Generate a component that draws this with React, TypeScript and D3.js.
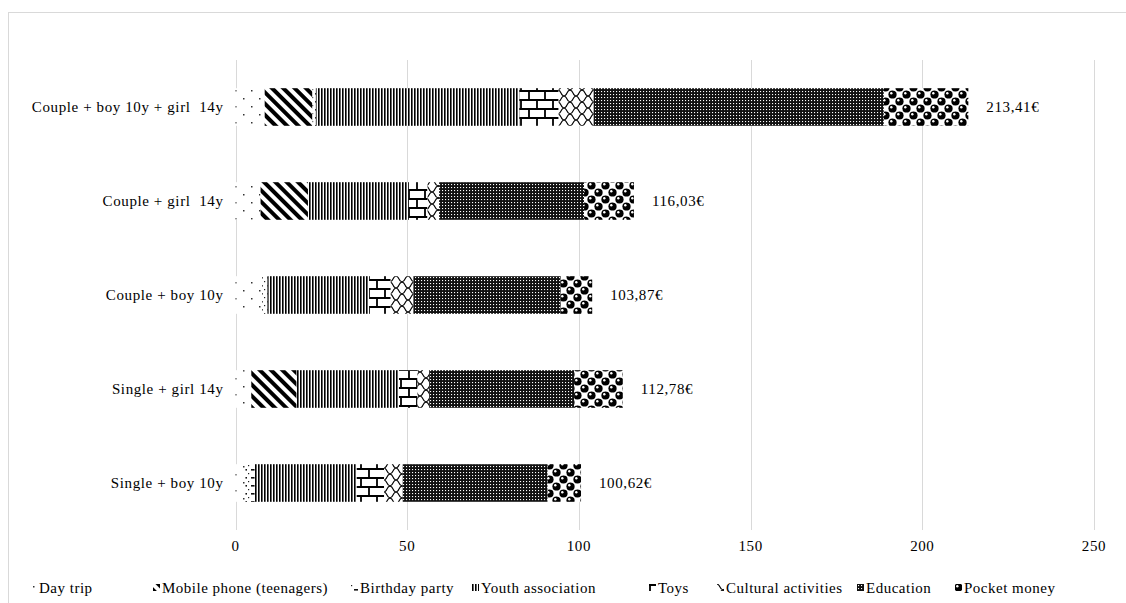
import React from "react";
import * as d3 from "d3";

// Household categories (top to bottom) and monthly cost items, in €
const categories = [
  "Couple + boy 10y + girl  14y",
  "Couple + girl  14y",
  "Couple + boy 10y",
  "Single + girl 14y",
  "Single + boy 10y",
];

const dayTrip = [8.5, 7.3, 7.8, 4.6, 2.9];
const mobilePhone = [13.9, 13.8, 0, 13.2, 0];
const birthdayParty = [1.0, 0, 1.5, 0, 2.7];
const youthAssociation = [59.3, 29.4, 29.6, 29.8, 29.7];
const toys = [11.4, 5.4, 6.3, 5.4, 8.0];
const culturalActivities = [10.2, 3.4, 6.6, 3.4, 5.4];
const education = [84.5, 42.2, 42.9, 42.2, 42.2];
const pocketMoney = [24.61, 14.53, 9.17, 14.18, 9.72];

const totals = [213.41, 116.03, 103.87, 112.78, 100.62];

const seriesNames = [
  "Day trip",
  "Mobile phone (teenagers)",
  "Birthday party",
  "Youth association",
  "Toys",
  "Cultural activities",
  "Education",
  "Pocket money",
];
const seriesValues = [
  dayTrip,
  mobilePhone,
  birthdayParty,
  youthAssociation,
  toys,
  culturalActivities,
  education,
  pocketMoney,
];

const xTicks = [0, 50, 100, 150, 200, 250];

const W = 1126;
const H = 603;
const FONT = "'Liberation Serif', 'Times New Roman', serif";
const FS = 15;
const LS = 0.6;

const margin = { left: 235.5, right: 1094, top: 60, bottom: 530 };

// legend swatch positions along the bottom row
const legendX = [30, 153, 351, 472, 649, 717, 857, 955];
const legendY = 588;

const rows = categories.map((c, i) => {
  const r: Record<string, number | string> = { category: c };
  seriesNames.forEach((s, j) => (r[s] = seriesValues[j][i]));
  return r;
});

// Fill tiles for the eight cost items; `ox`/`oy` shift the tile origin
function PatternSet({ prefix, ox = 0, oy = 0 }: { prefix: string; ox?: number; oy?: number }) {
  return (
    <>
      {/* Day trip: sparse staggered dots */}
      <pattern id={`${prefix}0`} patternUnits="userSpaceOnUse" x={ox} y={oy} width="16" height="16">
        <rect width="16" height="16" fill="#fff" />
        <rect x="3" y="2" width="1.5" height="1.5" fill="#333" />
        <rect x="11" y="10" width="1.5" height="1.5" fill="#333" />
      </pattern>
      {/* Mobile phone: wide diagonal stripes */}
      <pattern
        id={`${prefix}1`}
        patternUnits="userSpaceOnUse"
        x={ox}
        y={oy}
        width="8"
        height="8"
        patternTransform="rotate(-45)"
      >
        <rect width="8" height="8" fill="#fff" />
        <rect width="4" height="8" fill="#000" />
      </pattern>
      {/* Birthday party: dots and short dashes */}
      <pattern id={`${prefix}2`} patternUnits="userSpaceOnUse" x={ox} y={oy} width="8" height="8">
        <rect width="8" height="8" fill="#fff" />
        <rect x="0" y="1" width="1.2" height="1.2" fill="#222" />
        <rect x="3" y="5" width="4" height="1.6" fill="#111" />
      </pattern>
      {/* Youth association: dense vertical lines */}
      <pattern id={`${prefix}3`} patternUnits="userSpaceOnUse" x={ox} y={oy} width="3" height="6">
        <rect width="3" height="6" fill="#fff" />
        <rect width="1.6" height="6" fill="#000" />
      </pattern>
      {/* Toys: brick wall */}
      <pattern id={`${prefix}4`} patternUnits="userSpaceOnUse" x={ox} y={oy} width="16" height="18">
        <rect width="16" height="18" fill="#fff" />
        <path
          d="M0,1 H16 M0,10 H16 M1,1 V10 M9,10 V18"
          stroke="#000"
          strokeWidth="1.8"
          fill="none"
        />
      </pattern>
      {/* Cultural activities: curved lattice */}
      <pattern id={`${prefix}5`} patternUnits="userSpaceOnUse" x={ox} y={oy} width="12" height="12">
        <rect width="12" height="12" fill="#fff" />
        <path
          d="M0,0 C4,1 2,5 6,6 C10,7 8,11 12,12 M12,0 C8,1 10,5 6,6 C2,7 4,11 0,12"
          stroke="#000"
          strokeWidth="1.1"
          fill="none"
        />
      </pattern>
      {/* Education: black with fine white dots */}
      <pattern id={`${prefix}6`} patternUnits="userSpaceOnUse" x={ox} y={oy} width="3" height="3">
        <rect width="3" height="3" fill="#111" />
        <rect x="1" y="1" width="1.1" height="1.1" fill="#fff" />
      </pattern>
      {/* Pocket money: shaded spheres */}
      <pattern id={`${prefix}7`} patternUnits="userSpaceOnUse" x={ox} y={oy} width="14" height="14">
        <rect width="14" height="14" fill="#fff" />
        <circle cx="3.5" cy="3.5" r="4.1" fill="#000" />
        <circle cx="2.3" cy="2.2" r="1.2" fill="#fff" />
        <circle cx="10.5" cy="10.5" r="4.1" fill="#000" />
        <circle cx="9.3" cy="9.2" r="1.2" fill="#fff" />
        <circle cx="17.5" cy="3.5" r="4.1" fill="#000" />
        <circle cx="-3.5" cy="10.5" r="4.1" fill="#000" />
        <circle cx="3.5" cy="17.5" r="4.1" fill="#000" />
        <circle cx="10.5" cy="-3.5" r="4.1" fill="#000" />
      </pattern>
    </>
  );
}

export default function App() {
  const x = d3
    .scaleLinear()
    .domain([0, 250])
    .range([margin.left, margin.right]);
  const y = d3
    .scaleBand<string>()
    .domain(categories)
    .range([margin.top, margin.bottom])
    .paddingInner(0.6)
    .paddingOuter(0.3);

  const stacked = d3.stack<Record<string, number | string>>().keys(seriesNames)(
    rows as any
  );

  return (
    <svg
      width={W}
      height={H}
      style={{ position: "absolute", left: 0, top: 0, background: "#fff" }}
      fontFamily={FONT}
    >
      <defs>
        <PatternSet prefix="p" />
        {legendX.map((lx, i) => (
          <PatternSet key={i} prefix={`l${i}_`} ox={lx} oy={legendY - 4} />
        ))}
      </defs>
      <rect x={8.5} y={12.5} width={1300} height={800} fill="none" stroke="#d9d9d9" />

      {/* vertical gridlines */}
      {xTicks.map((t) => (
        <line
          key={t}
          x1={Math.round(x(t)) + 0.5}
          x2={Math.round(x(t)) + 0.5}
          y1={margin.top}
          y2={margin.bottom}
          stroke="#d9d9d9"
          strokeWidth={1}
        />
      ))}

      {/* stacked bars */}
      {stacked.map((layer, si) => (
        <g key={seriesNames[si]} fill={`url(#p${si})`}>
          {layer.map((d, ci) => {
            const w = x(d[1]) - x(d[0]);
            if (w <= 0) return null;
            return (
              <rect
                key={ci}
                x={x(d[0])}
                y={y(categories[ci])!}
                width={w}
                height={y.bandwidth()}
              />
            );
          })}
        </g>
      ))}

      {/* total labels */}
      {totals.map((t, i) => (
        <text
          key={i}
          x={x(t) + 18}
          y={y(categories[i])! + y.bandwidth() / 2}
          dominantBaseline="central"
          fontSize={FS}
          letterSpacing={LS}
          fill="#000"
        >
          {t.toFixed(2).replace(".", ",") + "€"}
        </text>
      ))}

      {/* category labels */}
      {categories.map((c) => (
        <text
          key={c}
          x={margin.left - 12}
          y={y(c)! + y.bandwidth() / 2}
          textAnchor="end"
          dominantBaseline="central"
          fontSize={FS}
          letterSpacing={LS}
          fill="#000"
          style={{ whiteSpace: "pre" }}
        >
          {c}
        </text>
      ))}

      {/* x tick labels */}
      {xTicks.map((t) => (
        <text
          key={t}
          x={x(t)}
          y={margin.bottom + 16}
          textAnchor="middle"
          dominantBaseline="central"
          fontSize={FS}
          letterSpacing={LS}
          fill="#000"
        >
          {t}
        </text>
      ))}

      {/* legend */}
      {seriesNames.map((s, i) => (
        <g key={s}>
          <rect
            x={legendX[i]}
            y={legendY - 4}
            width={7}
            height={7}
            fill={`url(#l${i}_${i})`}
          />
          <text
            x={legendX[i] + 9}
            y={legendY}
            dominantBaseline="central"
            fontSize={FS}
            letterSpacing={LS - 0.1}
            fill="#000"
          >
            {s}
          </text>
        </g>
      ))}
    </svg>
  );
}
